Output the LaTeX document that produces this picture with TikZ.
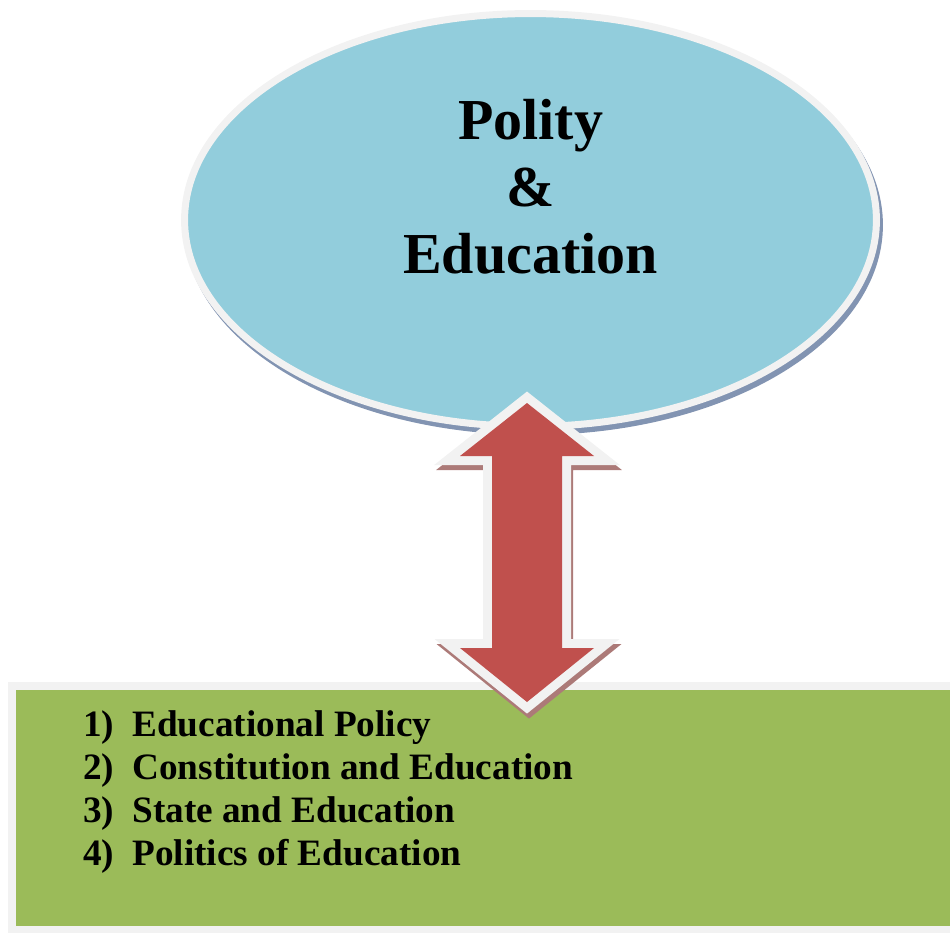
\documentclass[tikz,border=0pt]{standalone}
\usepackage{fontspec}
\setmainfont{Liberation Serif}
\usepackage{xcolor}
\usepackage{tikz}
\usetikzlibrary{shapes.geometric,shadows}

\definecolor{skyfill}{RGB}{146,205,220}
\definecolor{brickfill}{RGB}{192,80,77}
\definecolor{leaffill}{RGB}{155,187,89}
\definecolor{rimgray}{RGB}{242,242,242}
\definecolor{navyshade}{RGB}{130,148,178}
\definecolor{brickshade}{RGB}{172,122,120}

\begin{document}
\begin{tikzpicture}[x=0.02cm, y=-0.02cm,
  rim/.style={draw=rimgray, outer sep=0pt},
  bigtitle/.style={font=\fontsize{33}{38}\selectfont\bfseries, align=center},
  itemtext/.style={font=\fontsize{21.2}{24.6}\selectfont\bfseries, align=left, inner sep=0pt}]
\useasboundingbox (0,0) rectangle (950,933);

% top ellipse with its shadow
\node[ellipse, rim, line width=.14cm, fill=skyfill, minimum width=13.84cm, minimum height=8.26cm,
  drop shadow={shadow xshift=.06cm, shadow yshift=-.1cm, fill=navyshade, draw=navyshade, opacity=1}]
  (polity) at (530.5,220) {};
\node[bigtitle] (title) at ([yshift=.67cm]polity.center) {Polity\\\&\\Education};

% bottom box
\node[rectangle, rim, line width=.16cm, fill=leaffill, anchor=north west,
  minimum width=19.1cm, minimum height=4.88cm] (topics) at (12,686) {};
\node[itemtext, anchor=north west] (items) at (83,710) {%
  \makebox[.98cm][l]{1)}Educational Policy\\
  \makebox[.98cm][l]{2)}Constitution and Education\\
  \makebox[.98cm][l]{3)}State and Education\\
  \makebox[.98cm][l]{4)}Politics of Education};

% two-headed block arrow
\coordinate (up) at (527,403);
\coordinate (down) at (527,702);
\path[draw=brickshade, fill=brickshade, line width=.36cm, transform canvas={xshift=.04cm, yshift=-.1cm}]
  (up) -- ++(67,53) -- ++(-32,0) -- ++(0,192) -- ++(32,0) -- (down)
  -- ++(-67,-54) -- ++(32,0) -- ++(0,-192) -- ++(-32,0) -- cycle;
\path[preaction={draw=rimgray, line width=.36cm}, fill=brickfill]
  (up) -- ++(67,53) -- ++(-32,0) -- ++(0,192) -- ++(32,0) -- (down)
  -- ++(-67,-54) -- ++(32,0) -- ++(0,-192) -- ++(-32,0) -- cycle;
\end{tikzpicture}
\end{document}
